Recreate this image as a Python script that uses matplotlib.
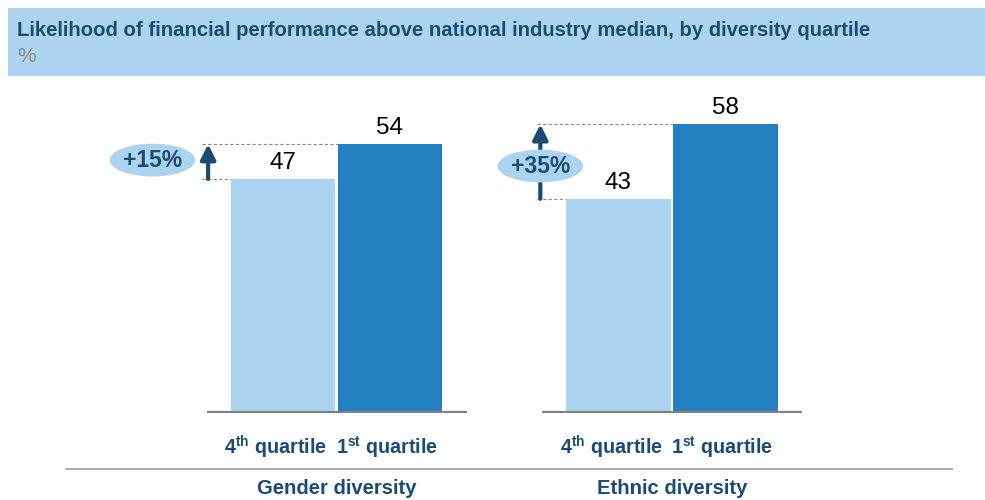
import matplotlib
matplotlib.use("Agg")
import matplotlib.pyplot as plt
from matplotlib.patches import Rectangle, Ellipse
from matplotlib.lines import Line2D

plt.rcParams['font.family'] = ['Liberation Sans', 'DejaVu Sans']
plt.rcParams['mathtext.fontset'] = 'custom'
plt.rcParams['mathtext.rm'] = 'Liberation Sans'
plt.rcParams['mathtext.bf'] = 'Liberation Sans:bold'

# data
groups = ["Gender diversity", "Ethnic diversity"]
quartiles = [r"4$^{\mathbf{th}}$ quartile", r"1$^{\mathbf{st}}$ quartile"]
fourth_q = [47, 43]
first_q = [54, 58]
uplift = ["+15%", "+35%"]

light = '#acd4f0'
dark = '#2280c1'
navy = '#1b4b70'

fig = plt.figure(figsize=(9.85, 5), dpi=100)

# header banner
fig.add_artist(Rectangle((8 / 985, 424 / 500), 1, 68 / 500, transform=fig.transFigure,
                         facecolor=light, edgecolor='none', zorder=0))
fig.text(17 / 985, 1 - 30 / 500, "Likelihood of financial performance above national industry median, by diversity quartile",
         fontsize=14.6, fontweight='bold', color=navy, va='center')
fig.text(17 / 985, 1 - 56 / 500, "%", fontsize=15, color='#8c8c8c', va='center')

ax = fig.add_axes([0, 0.175, 1, 0.636])
ax.set_xlim(-3.145, 6.061)
ax.set_ylim(0, 64)
ax.axis('off')

centers = [0, 3.135]
bw = 0.98
badge_dx = [-1.72, -1.23]
arrow_dx = [-1.20, -1.23]
badge_dy = [0.3, -0.9]

for i, c in enumerate(centers):
    lo, hi = fourth_q[i], first_q[i]
    ax.bar(c - 0.5, lo, bw, color=light, zorder=2)
    ax.bar(c + 0.5, hi, bw, color=dark, zorder=2)
    ax.hlines(0, c - 1.215, c + 1.215, color='#808080', lw=3, zorder=3)
    for x, v in [(c - 0.5, lo), (c + 0.5, hi)]:
        ax.annotate(str(v), (x, v), xytext=(0, 3.5), textcoords='offset points',
                    ha='center', va='bottom', fontsize=17.5, color='black')
    for x, q in zip([c - 0.57, c + 0.47], quartiles):
        ax.annotate(q, (x, 0), xytext=(0, -25), textcoords='offset points',
                    ha='center', va='center', fontsize=14.2, fontweight='bold', color=navy)
    ax.annotate(groups[i], (c, 0), xytext=(0, -54.5), textcoords='offset points',
                ha='center', va='center', fontsize=14.6, fontweight='bold', color=navy)

    # dashed guides and uplift arrow
    ax.hlines(hi, c - 1.26, c + 0.5 - bw / 2, color='#8c8c8c', lw=0.8, linestyles=(0, (3, 2)), zorder=1)
    ax.hlines(lo, c - 1.26, c - 0.5 - bw / 2, color='#8c8c8c', lw=0.8, linestyles=(0, (3, 2)), zorder=1)
    ax.annotate('', xy=(c + arrow_dx[i], hi), xytext=(c + arrow_dx[i], lo),
                arrowprops=dict(arrowstyle='-|>,head_width=0.45,head_length=0.9', lw=3,
                                color=navy, shrinkA=0, shrinkB=0, mutation_scale=10), zorder=4)
    ym = (lo + hi) / 2 + badge_dy[i]
    ax.add_patch(Ellipse((c + badge_dx[i], ym), 0.8, 6.6, facecolor=light, edgecolor='none', zorder=5))
    ax.text(c + badge_dx[i], ym, uplift[i], ha='center', va='center', fontsize=16.5,
            fontweight='bold', color=navy, zorder=6)

fig.add_artist(Line2D([66 / 985, 952 / 985], [31 / 500, 31 / 500], color='#b0b0b0', lw=1.5,
                      transform=fig.transFigure))

fig.savefig('out.png', dpi=100)
